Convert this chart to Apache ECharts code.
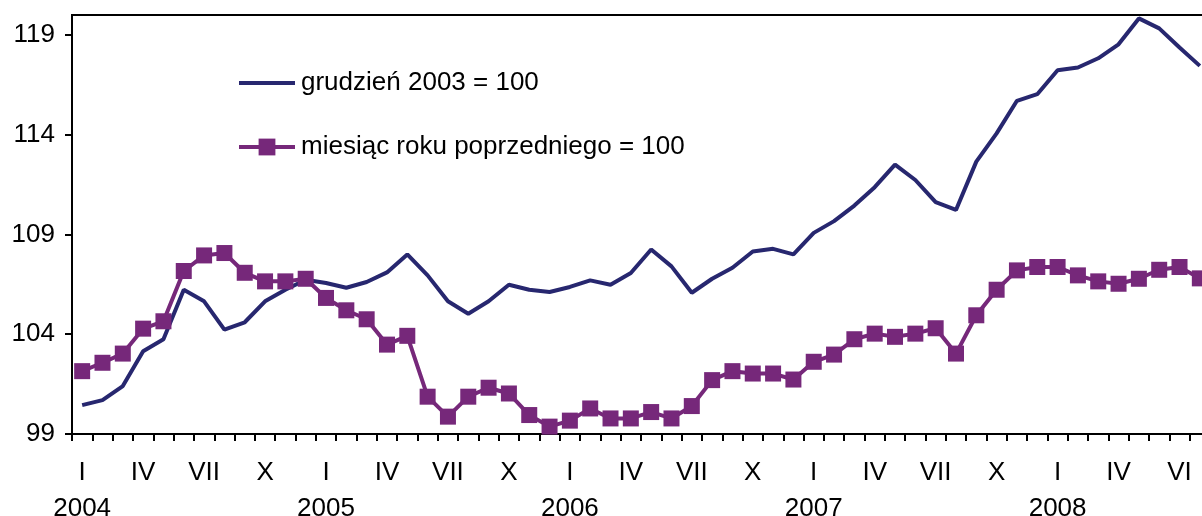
<!DOCTYPE html>
<html>
<head>
<meta charset="utf-8">
<script src="https://cdn.jsdelivr.net/npm/echarts@6/dist/echarts.min.js"></script>
<style>
  html, body { margin: 0; padding: 0; background: #fff; }
  #chart { width: 1202px; height: 516px; }
</style>
</head>
<body>
<div id="chart"></div>
<script>
// miesiące od I 2004 (ostatni punkt częściowo ucięty na prawej krawędzi)
const monthNames = ['I', 'II', 'III', 'IV', 'V', 'VI', 'VII', 'VIII', 'IX', 'X', 'XI', 'XII']
const years = ['2004', '2005', '2006', '2007', '2008']
// etykiety co trzeci miesiąc, tak jak na wykresie (ostatnia to "VI")
const tickLabels = ['I', 'IV', 'VII', 'X', 'I', 'IV', 'VII', 'X', 'I', 'IV', 'VII', 'X',
  'I', 'IV', 'VII', 'X', 'I', 'IV', 'VI']
const yTicks = [99, 104, 109, 114, 119]

const baseDec2003 = [
  100.45, 100.7, 101.4, 103.15, 103.75, 106.23, 105.65, 104.23, 104.6, 105.65, 106.23, 106.73,
  106.57, 106.33, 106.62, 107.1, 108.0, 106.95, 105.65, 105.03, 105.65, 106.48, 106.23, 106.12,
  106.37, 106.7, 106.48, 107.07, 108.25, 107.4, 106.08, 106.78, 107.33, 108.15, 108.28, 108.0,
  109.08, 109.67, 110.45, 111.37, 112.5, 111.73, 110.62, 110.23, 112.65, 114.07, 115.7, 116.03,
  117.23, 117.37, 117.83, 118.53, 119.83, 119.33, 118.37, 117.45
]
const basePrevYear = [
  102.15, 102.57, 103.03, 104.28, 104.65, 107.17, 107.95, 108.07, 107.08, 106.65, 106.65, 106.78,
  105.82, 105.2, 104.75, 103.48, 103.92, 100.87, 99.87, 100.87, 101.32, 101.03, 99.95, 99.37,
  99.67, 100.28, 99.78, 99.78, 100.1, 99.78, 100.4, 101.7, 102.15, 102.03, 102.03, 101.73,
  102.62, 102.98, 103.75, 104.03, 103.87, 104.03, 104.3, 103.03, 104.95, 106.23, 107.2, 107.37,
  107.37, 106.95, 106.65, 106.53, 106.78, 107.23, 107.37, 106.8
]

const categories = baseDec2003.map((_, i) => monthNames[i % 12] + ' ' + years[Math.floor(i / 12)])

const font = "'Liberation Sans', Arial, sans-serif"
const blue = '#27276f'
const purple = '#76287a'

const chart = echarts.init(document.getElementById('chart'))

const option = {
  animation: false,
  textStyle: { fontFamily: font },
  grid: {
    left: 72,
    top: 15,
    bottom: 82,
    width: 1138,
    outerBoundsMode: 'none',
    containLabel: false,
    show: true,
    borderColor: '#000',
    borderWidth: 2,
  },
  legend: {
    orient: 'vertical',
    left: 232,
    top: 63,
    itemWidth: 56,
    itemHeight: 21,
    itemGap: 34,
    lineStyle: { width: 4 },
    textStyle: {
      fontFamily: font,
      fontSize: 26,
      color: '#000',
      lineHeight: 30,
      padding: [0, 0, 0, 1],
    },
    data: [
      { name: 'grudzień 2003 = 100', itemStyle: { opacity: 0 } },
      { name: 'miesiąc roku poprzedniego = 100' },
    ],
  },
  xAxis: {
    type: 'category',
    data: categories,
    boundaryGap: true,
    axisLine: { lineStyle: { color: '#000', width: 2 } },
    axisTick: { show: true, interval: 0, length: 7, lineStyle: { color: '#000', width: 2 } },
    axisLabel: {
      interval: 0,
      margin: 21,
      fontFamily: font,
      fontSize: 26,
      lineHeight: 36,
      color: '#000',
      formatter: (val, idx) => {
        if (idx % 3 !== 0) return ''
        let s = tickLabels[idx / 3] || ''
        if (idx % 12 === 0) s += '\n' + years[idx / 12]
        return s
      },
    },
    splitLine: { show: false },
  },
  yAxis: {
    type: 'value',
    min: 99,
    max: 120,
    interval: 5,
    axisLine: { show: true, lineStyle: { color: '#000', width: 2 } },
    axisTick: { show: true, length: 7, lineStyle: { color: '#000', width: 2 }, customValues: yTicks },
    axisLabel: { margin: 17, fontFamily: font, fontSize: 26, color: '#000', customValues: yTicks },
    splitLine: { show: false },
  },
  series: [
    {
      name: 'grudzień 2003 = 100',
      type: 'line',
      data: baseDec2003,
      symbol: 'none',
      showSymbol: false,
      lineStyle: { color: blue, width: 4 },
      itemStyle: { color: blue },
    },
    {
      name: 'miesiąc roku poprzedniego = 100',
      type: 'line',
      data: basePrevYear,
      symbol: 'rect',
      symbolSize: 16,
      showSymbol: true,
      lineStyle: { color: purple, width: 4 },
      itemStyle: { color: purple },
    },
  ],
}

chart.setOption(option)
</script>
</body>
</html>
